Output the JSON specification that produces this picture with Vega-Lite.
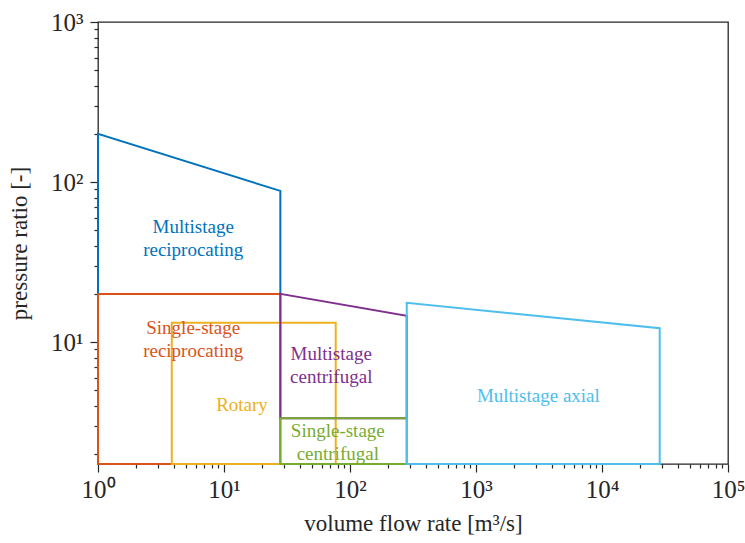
{
  "$schema": "https://vega.github.io/schema/vega-lite/v6.json",
  "width": 630,
  "height": 442,
  "autosize": {"type": "none"},
  "padding": {"left": 98, "top": 22, "right": 17, "bottom": 79},
  "background": "white",
  "config": {
    "view": {"stroke": "#262626", "strokeWidth": 1.3},
    "font": "Liberation Serif",
    "axis": {
      "domain": false,
      "grid": false,
      "tickColor": "#262626",
      "tickWidth": 1.2,
      "labelColor": "#262626",
      "titleColor": "#262626",
      "labelFont": "Liberation Serif",
      "titleFont": "Liberation Serif",
      "labelFontSize": 25,
      "titleFontSize": 23,
      "titleFontWeight": "normal",
      "labelFlush": false,
      "labelOverlap": false
    }
  },
  "datasets": {
    "regions": [
      {"shape": "Multistage reciprocating", "i": 0, "x": 1, "y": 20},
      {"shape": "Multistage reciprocating", "i": 1, "x": 1, "y": 200},
      {"shape": "Multistage reciprocating", "i": 2, "x": 28, "y": 88},
      {"shape": "Multistage reciprocating", "i": 3, "x": 28, "y": 20},
      {"shape": "Multistage reciprocating", "i": 4, "x": 1, "y": 20},

      {"shape": "Single-stage reciprocating", "i": 0, "x": 1, "y": 1.73},
      {"shape": "Single-stage reciprocating", "i": 1, "x": 1, "y": 20},
      {"shape": "Single-stage reciprocating", "i": 2, "x": 28, "y": 20},
      {"shape": "Single-stage reciprocating", "i": 3, "x": 28, "y": 1.73},
      {"shape": "Single-stage reciprocating", "i": 4, "x": 1, "y": 1.73},

      {"shape": "Rotary", "i": 0, "x": 3.85, "y": 1.73},
      {"shape": "Rotary", "i": 1, "x": 3.85, "y": 13.2},
      {"shape": "Rotary", "i": 2, "x": 77, "y": 13.2},
      {"shape": "Rotary", "i": 3, "x": 77, "y": 1.73},
      {"shape": "Rotary", "i": 4, "x": 3.85, "y": 1.73},

      {"shape": "Multistage centrifugal", "i": 0, "x": 28, "y": 3.34},
      {"shape": "Multistage centrifugal", "i": 1, "x": 28, "y": 20},
      {"shape": "Multistage centrifugal", "i": 2, "x": 282, "y": 14.6},
      {"shape": "Multistage centrifugal", "i": 3, "x": 282, "y": 3.34},
      {"shape": "Multistage centrifugal", "i": 4, "x": 28, "y": 3.34},

      {"shape": "Single-stage centrifugal", "i": 0, "x": 28, "y": 1.73},
      {"shape": "Single-stage centrifugal", "i": 1, "x": 28, "y": 3.34},
      {"shape": "Single-stage centrifugal", "i": 2, "x": 282, "y": 3.34},
      {"shape": "Single-stage centrifugal", "i": 3, "x": 282, "y": 1.73},
      {"shape": "Single-stage centrifugal", "i": 4, "x": 28, "y": 1.73},

      {"shape": "Multistage axial", "i": 0, "x": 282, "y": 1.73},
      {"shape": "Multistage axial", "i": 1, "x": 282, "y": 17.6},
      {"shape": "Multistage axial", "i": 2, "x": 28700, "y": 12.2},
      {"shape": "Multistage axial", "i": 3, "x": 28700, "y": 1.73},
      {"shape": "Multistage axial", "i": 4, "x": 282, "y": 1.73}
    ],
    "labels": [
      {"shape": "Multistage reciprocating", "text": "Multistage\nreciprocating", "x": 5.7, "y": 52.7},
      {"shape": "Single-stage reciprocating", "text": "Single-stage\nreciprocating", "x": 5.7, "y": 12.2},
      {"shape": "Rotary", "text": "Rotary", "x": 13.9, "y": 4.07},
      {"shape": "Multistage centrifugal", "text": "Multistage\ncentrifugal", "x": 71, "y": 8.37},
      {"shape": "Single-stage centrifugal", "text": "Single-stage\ncentrifugal", "x": 80, "y": 2.79},
      {"shape": "Multistage axial", "text": "Multistage axial", "x": 3125, "y": 4.57}
    ]
  },
  "encoding": {
    "x": {
      "field": "x",
      "type": "quantitative",
      "scale": {"type": "log", "domain": [1, 100000], "nice": false},
      "axis": {
        "title": "volume flow rate [m³/s]",
        "titlePadding": 10,
        "labelPadding": 5,
        "values": [1,2,3,4,5,6,7,8,9,10,20,30,40,50,60,70,80,90,100,200,300,400,500,600,700,800,900,1000,2000,3000,4000,5000,6000,7000,8000,9000,10000,20000,30000,40000,50000,60000,70000,80000,90000,100000],
        "tickSize": {"condition": {"test": "abs(log(datum.value)/LN10 - round(log(datum.value)/LN10)) < 1e-6", "value": 8}, "value": 4},
        "labelExpr": "abs(log(datum.value)/LN10 - round(log(datum.value)/LN10)) < 1e-6 ? '10' + ['⁰','¹','²','³','⁴','⁵'][round(log(datum.value)/LN10)] : ''"
      }
    },
    "y": {
      "field": "y",
      "type": "quantitative",
      "scale": {"type": "log", "domain": [1.73, 1000], "nice": false},
      "axis": {
        "title": "pressure ratio [-]",
        "titlePadding": 19,
        "labelPadding": 7,
        "values": [2,3,4,5,6,7,8,9,10,20,30,40,50,60,70,80,90,100,200,300,400,500,600,700,800,900,1000],
        "tickSize": {"condition": {"test": "abs(log(datum.value)/LN10 - round(log(datum.value)/LN10)) < 1e-6", "value": 8}, "value": 4},
        "labelExpr": "abs(log(datum.value)/LN10 - round(log(datum.value)/LN10)) < 1e-6 ? '10' + ['⁰','¹','²','³','⁴','⁵'][round(log(datum.value)/LN10)] : ''"
      }
    },
    "color": {
      "field": "shape",
      "type": "nominal",
      "legend": null,
      "scale": {
        "domain": ["Multistage reciprocating", "Single-stage reciprocating", "Rotary", "Multistage centrifugal", "Single-stage centrifugal", "Multistage axial"],
        "range": ["#0072BD", "#D95319", "#EDB120", "#7E2F8E", "#77AC30", "#4DBEEE"]
      }
    }
  },
  "layer": [
    {
      "data": {"name": "regions"},
      "mark": {"type": "line", "strokeWidth": 2, "strokeJoin": "miter", "strokeCap": "square", "clip": false},
      "encoding": {
        "order": {"field": "i", "type": "quantitative"}
      }
    },
    {
      "data": {"name": "labels"},
      "mark": {"type": "text", "font": "Liberation Serif", "fontSize": 19, "lineBreak": "\n", "lineHeight": 23, "align": "center", "baseline": "middle"},
      "encoding": {
        "text": {"field": "text", "type": "nominal"}
      }
    }
  ]
}
